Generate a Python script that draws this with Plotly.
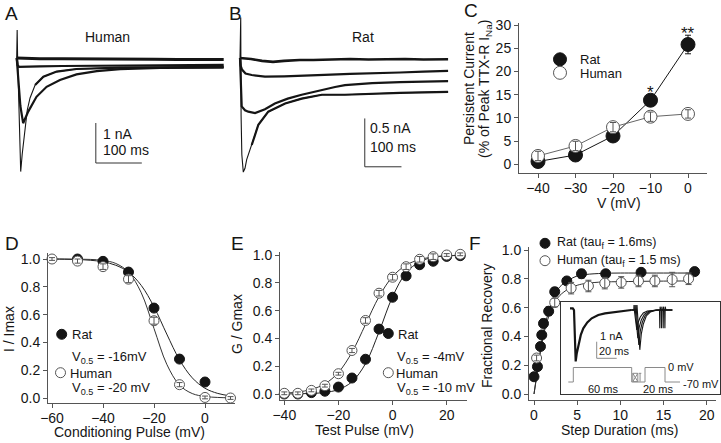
import plotly.graph_objects as go

W, H = 721, 443
FONT = "Liberation Sans, Arial, Helvetica, sans-serif"
INK = "#151515"
AX = "#555555"
HUM = "#555555"
GRAY = "#8a8a8a"

# ---------------- DATA ----------------
# Panel A (human TTX-R currents): time (ms), current (nA)
a0_t = [0, 50, 100, 150, 200, 250, 300, 350, 400, 450]
a0_i = [0, -0.02, -0.02, -0.02, -0.03, -0.03, -0.03, -0.04, -0.04, -0.04]
a1_t = [0, 2, 5, 20, 50, 100, 200, 300, 450]
a1_i = [0, -0.18, -0.22, -0.22, -0.21, -0.2, -0.19, -0.18, -0.17]
a2_t = [0, 3, 8, 14, 25, 43, 65, 94, 130, 174, 225, 312, 450]
a2_i = [0, -0.4, -1.2, -1.63, -1.34, -0.97, -0.72, -0.55, -0.41, -0.33, -0.28, -0.25, -0.24]
a3_t = [0, 1, 2, 5, 8.7, 12, 18, 23, 29, 40, 58, 87, 130, 225, 450]
a3_i = [0, 0.7, 0, -1.5, -2.84, -2.4, -1.75, -1.3, -1.0, -0.675, -0.47, -0.34, -0.275, -0.24, -0.22]
a_bar = dict(t0=172, i0=-2.625, dt=100, di=1)

# Panel B (rat TTX-R currents)
b0_t = [0, 30, 60, 90, 120, 163, 200, 250, 300, 350, 400, 450, 500, 567]
b0_i = [0, -0.01, -0.03, -0.04, -0.03, -0.02, -0.02, -0.015, -0.01, -0.015, -0.01, -0.01, -0.015, -0.013]
b1_t = [0, 2, 5.4, 15, 32, 68, 120, 163, 230, 300, 370, 436, 500, 567]
b1_i = [0, -0.08, -0.12, -0.16, -0.176, -0.193, -0.19, -0.186, -0.175, -0.165, -0.16, -0.15, -0.14, -0.134]
b2_t = [0, 2, 4.6, 13.6, 22.6, 41, 68, 95, 130, 168, 210, 259, 286, 360, 436, 567]
b2_i = [0, -0.3, -0.5, -0.54, -0.555, -0.57, -0.53, -0.47, -0.42, -0.38, -0.34, -0.30, -0.28, -0.26, -0.25, -0.24]
b3_t = [0, 2, 3, 5, 9, 13.6, 18.2, 22.6, 32, 50, 77, 123, 168, 223, 286, 360, 436, 567]
b3_i = [0, 0.42, -0.6, -1.0, -1.18, -1.14, -1.05, -1.0, -0.9, -0.69, -0.555, -0.47, -0.42, -0.38, -0.38, -0.37, -0.36, -0.35]
b_bar = dict(t0=340, i0=-1.125, dt=100, di=0.5)

# Panel C: persistent current
c_v = [-40, -30, -20, -10, 0]
c_rat = [0.6, 2.0, 6.1, 13.8, 25.8]
c_rat_err = [0.5, 0.5, 0.7, 1.0, 2.0]
c_hum = [1.8, 3.95, 8.0, 10.25, 10.85]
c_hum_err = [1.0, 1.0, 1.0, 1.0, 0.9]

# Panel D: steady-state inactivation
d_rat_v = [-50, -40, -30, -20, -10, 0]
d_rat = [1.0, 0.983, 0.906, 0.647, 0.28, 0.115]
d_rat_err = [0.01, 0.01, 0.015, 0.015, 0.02, 0.02]
d_hum_v = [-60, -50, -40, -30, -20, -10, 0, 10]
d_hum = [1.0, 0.985, 0.945, 0.855, 0.556, 0.096, 0.004, 0.0]
d_hum_err = [0.01, 0.015, 0.02, 0.025, 0.025, 0.015, 0.01, 0.01]
d_fit_v = [-60, -55, -50, -45, -40, -35, -30, -25, -20, -15, -10, -5, 0, 5, 10]
d_fit_rat = [1.0, 0.998, 0.996, 0.991, 0.98, 0.955, 0.906, 0.81, 0.656, 0.46, 0.275, 0.145, 0.07, 0.033, 0.015]
d_fit_hum = [1.0, 1.0, 0.999, 0.997, 0.99, 0.968, 0.906, 0.757, 0.5, 0.243, 0.093, 0.032, 0.011, 0.004, 0.001]

# Panel E: activation
e_v = [-40, -35, -30, -25, -20, -15, -10, -5, 0, 5, 10, 15, 20, 25]
e_rat = [0.0, 0.0, 0.01, 0.02, 0.05, 0.115, 0.25, 0.467, 0.696, 0.85, 0.93, 0.955, 0.99, 0.995]
e_hum = [0.005, 0.005, 0.026, 0.06, 0.146, 0.313, 0.529, 0.725, 0.84, 0.916, 0.969, 0.988, 1.0, 1.005]
e_err = [0.01, 0.01, 0.01, 0.01, 0.01, 0.015, 0.02, 0.02, 0.02, 0.02, 0.02, 0.02, 0.01, 0.01]
e_fit_rat = [0.0005, 0.0014, 0.004, 0.011, 0.032, 0.088, 0.218, 0.447, 0.70, 0.872, 0.951, 0.983, 0.994, 0.998]
e_fit_hum = [0.006, 0.014, 0.033, 0.073, 0.155, 0.30, 0.5, 0.70, 0.845, 0.927, 0.967, 0.986, 0.994, 0.997]

# Panel F: recovery from inactivation
f_rat_t = [0, 0.4, 0.75, 0.9, 1.1, 1.7, 2.4, 3.8, 5.5, 8.3, 12.4, 18.6]
f_rat = [0.12, 0.19, 0.33, 0.41, 0.49, 0.575, 0.71, 0.785, 0.835, 0.835, 0.845, 0.85]
f_rat_err = [0.02, 0.02, 0.02, 0.02, 0.03, 0.03, 0.03, 0.02, 0.03, 0.02, 0.01, 0.01]
f_hum_t = [0.3, 2.4, 4.3, 6.3, 8.2, 10.1, 12.1, 14.0, 16.0, 17.9]
f_hum = [0.25, 0.635, 0.735, 0.75, 0.77, 0.775, 0.785, 0.785, 0.795, 0.80]
f_hum_err = [0.02, 0.03, 0.04, 0.04, 0.04, 0.04, 0.04, 0.04, 0.05, 0.04]
f_fit_rat_t = [0, 0.5, 1, 1.5, 2, 2.5, 3, 4, 5, 6, 8, 10, 12, 15, 19]
f_fit_rat = [0.0, 0.2, 0.4, 0.53, 0.63, 0.70, 0.745, 0.79, 0.82, 0.83, 0.838, 0.84, 0.84, 0.84, 0.84]
f_fit_hum_t = [0, 0.5, 1, 1.5, 2, 2.5, 3, 4, 5, 6, 8, 10, 12, 15, 18]
f_fit_hum = [0.0, 0.2, 0.38, 0.5, 0.585, 0.645, 0.685, 0.73, 0.755, 0.768, 0.778, 0.78, 0.782, 0.784, 0.785]

# Inset in F: currents (nA) and protocol (mV) vs time (ms)
in_first_t = [-3.3, -0.5, 0.7, 2.4, 3.5, 5, 7.5, 10, 14, 18.4, 25, 31.7, 45, 58]
in_first_i = [0.1, 0.1, 0, -3.1, -2.6, -2.1, -1.5, -1.1, -0.75, -0.5, -0.3, -0.2, -0.08, 0.0]
in_t0 = [58, 60.5, 60.7, 61, 63.5, 65, 67, 70, 74, 81, 86.2, 86.5, 86.8, 87.5, 99]
in_i0 = [0, 0, 0.3, 0, -1.2, -0.72, -0.42, -0.18, -0.06, 0, 0, -1.1, 0.2, 0, 0]
in_t1 = [58, 61.5, 61.7, 62, 64.5, 66, 68, 71, 75, 82, 87.9, 88.2, 88.5, 89.2, 99]
in_i1 = [0, 0, 0.3, 0, -1.7, -1.02, -0.6, -0.26, -0.09, 0, 0, -1.1, 0.2, 0, 0]
in_t2 = [58, 62.5, 62.7, 63, 65.5, 67, 69, 72, 76, 83, 89.6, 89.9, 90.2, 90.9, 99]
in_i2 = [0, 0, 0.3, 0, -2.1, -1.26, -0.74, -0.32, -0.1, 0, 0, -1.1, 0.2, 0, 0]
in_t3 = [58, 63.5, 63.7, 64, 66.5, 68, 70, 73, 77, 84, 91.3, 91.6, 91.9, 92.6, 99]
in_i3 = [0, 0, 0.3, 0, -2.4, -1.44, -0.85, -0.36, -0.12, 0, 0, -1.1, 0.2, 0, 0]
prot_t = [-5, 0, 0, 58.4, 58.4, 71.7, 71.7, 91.7, 91.7, 106.7]
prot_v = [-70, -70, 0, 0, -70, -70, 0, 0, -70, -70]
box_t = [59.5, 64.5, 64.5, 59.5, 59.5, 64.5, None, 59.5, 64.5]
box_v = [-28, -28, -68, -68, -28, -68, None, -68, -28]
tee_t = [65.5, 68, None, 66.75, 66.75]
tee_v = [-28, -28, None, -28, -68]
in_bar = dict(t0=23.4, i0=-2.91, dt=20, di=1)


# ---------------- helpers ----------------
def dom_x(p0, p1):
    return [p0 / W, p1 / W]


def dom_y(top, bottom):
    return [1 - bottom / H, 1 - top / H]


def cal(p_lo, p_hi, p1, v1, p2, v2):
    s = (v2 - v1) / (p2 - p1)
    return [v1 + (p_lo - p1) * s, v1 + (p_hi - p1) * s]


def PX(x):
    return x / W


def PY(y):
    return 1 - y / H


def vis_axis(**kw):
    d = dict(showline=True, linecolor=AX, linewidth=1, ticks="outside", ticklen=4,
             tickwidth=1, tickcolor=AX, showgrid=False, zeroline=False, automargin=False,
             tickfont=dict(size=14, color=INK, family=FONT))
    d.update(kw)
    return d


def hid_axis(**kw):
    d = dict(visible=False, showgrid=False, zeroline=False, automargin=False)
    d.update(kw)
    return d


def txt(s, x, y, size=14, xa="left", ya="middle", angle=0, color=INK):
    return dict(text=s, x=PX(x), y=PY(y), xref="paper", yref="paper", xanchor=xa,
                yanchor=ya, showarrow=False, textangle=angle,
                font=dict(size=size, color=color, family=FONT))


def circ(x, y, r, fill, line):
    return dict(type="circle", xref="paper", yref="paper", x0=PX(x - r), x1=PX(x + r),
                y0=PY(y + r), y1=PY(y - r), fillcolor=fill, line=dict(color=line, width=1))


fig = go.Figure()


def line(x, y, xa, ya, color=INK, width=1, shape="linear"):
    fig.add_trace(go.Scatter(x=x, y=y, mode="lines", xaxis=xa, yaxis=ya, showlegend=False,
                             hoverinfo="skip", line=dict(color=color, width=width, shape=shape)))


def pts(x, y, xa, ya, size, fill, edge, err=None, errcol=INK, lines=False, lcol=INK):
    fig.add_trace(go.Scatter(
        x=x, y=y, mode="lines+markers" if lines else "markers", xaxis=xa, yaxis=ya,
        showlegend=False, cliponaxis=False, line=dict(color=lcol, width=1),
        marker=dict(size=size, color=fill, line=dict(color=edge, width=1)),
        error_y=dict(array=err, color=errcol, thickness=1, width=3) if err is not None else None))


def errs(x, y, err, xa, ya, color):
    fig.add_trace(go.Scatter(
        x=x, y=y, mode="markers", xaxis=xa, yaxis=ya, showlegend=False, cliponaxis=False,
        marker=dict(size=1, color="rgba(0,0,0,0)"),
        error_y=dict(array=err, color=color, thickness=1, width=3)))


def scalebar(b, xa, ya, color=INK):
    line([b["t0"], b["t0"], b["t0"] + b["dt"]], [b["i0"] + b["di"], b["i0"], b["i0"]], xa, ya, color, 1)


# ---- Panel A ----
line(a0_t, a0_i, "x", "y", INK, 3)
line(a1_t, a1_i, "x", "y", INK, 2.2)
line(a2_t, a2_i, "x", "y", INK, 2.2)
line(a3_t, a3_i, "x", "y", INK, 1.1)
line(a3_t[9:], a3_i[9:], "x", "y", INK, 2.2)
scalebar(a_bar, "x", "y", "#333")

# ---- Panel B ----
line(b0_t, b0_i, "x2", "y2", INK, 2.6)
line(b1_t, b1_i, "x2", "y2", INK, 2.2)
line(b2_t, b2_i, "x2", "y2", INK, 2.2)
line(b3_t, b3_i, "x2", "y2", INK, 1.1)
line(b3_t[8:], b3_i[8:], "x2", "y2", INK, 2.2)
scalebar(b_bar, "x2", "y2", "#333")

# ---- Panel C ----
pts(c_v, c_rat, "x3", "y3", 14, INK, INK, c_rat_err, INK, lines=True, lcol=INK)
pts(c_v, c_hum, "x3", "y3", 13, "white", HUM, None, lines=True, lcol="#666")
errs(c_v, c_hum, c_hum_err, "x3", "y3", HUM)

# ---- Panel D ----
line(d_fit_v, d_fit_rat, "x4", "y4", "#222", 1, "spline")
line(d_fit_v, d_fit_hum, "x4", "y4", "#333", 1, "spline")
pts(d_rat_v, d_rat, "x4", "y4", 10, INK, INK, d_rat_err)
pts(d_hum_v, d_hum, "x4", "y4", 10, "white", HUM)
errs(d_hum_v, d_hum, d_hum_err, "x4", "y4", HUM)

# ---- Panel E ----
line(e_v, e_fit_rat, "x5", "y5", "#222", 1, "spline")
line(e_v, e_fit_hum, "x5", "y5", "#333", 1, "spline")
pts(e_v, e_rat, "x5", "y5", 10, INK, INK, e_err)
pts(e_v, e_hum, "x5", "y5", 10, "white", HUM)
errs(e_v, e_hum, e_err, "x5", "y5", HUM)

# ---- Panel F ----
line(f_fit_rat_t, f_fit_rat, "x6", "y6", "#222", 1, "spline")
line(f_fit_hum_t, f_fit_hum, "x6", "y6", "#333", 1, "spline")
pts(f_rat_t, f_rat, "x6", "y6", 10, INK, INK, f_rat_err)
pts(f_hum_t, f_hum, "x6", "y6", 10, "white", HUM)
errs(f_hum_t, f_hum, f_hum_err, "x6", "y6", HUM)

# ---- Inset ----
line(prot_t, prot_v, "x7", "y8", GRAY, 1)
line(box_t, box_v, "x7", "y8", GRAY, 1)
line(tee_t, tee_v, "x7", "y8", GRAY, 1)
line(in_first_t, in_first_i, "x7", "y7", INK, 2.2)
for tt, ii in [(in_t0, in_i0), (in_t1, in_i1), (in_t2, in_i2), (in_t3, in_i3)]:
    line(tt, ii, "x7", "y7", INK, 1.1)
scalebar(in_bar, "x7", "y7", GRAY)

fig.update_layout(
    template="none",
    width=W, height=H, margin=dict(l=0, r=0, t=0, b=0, pad=0), autosize=False,
    paper_bgcolor="white", plot_bgcolor="rgba(0,0,0,0)",
    font=dict(family=FONT, color=INK, size=14), showlegend=False,
    xaxis=hid_axis(domain=dom_x(10, 230), range=cal(10, 230, 16.7, 0, 62.7, 100), anchor="y"),
    yaxis=hid_axis(domain=dom_y(20, 178), range=cal(178, 20, 58, 0, 98, -1), anchor="x"),
    xaxis2=hid_axis(domain=dom_x(234, 455), range=cal(234, 455, 240, 0, 276.7, 100), anchor="y2"),
    yaxis2=hid_axis(domain=dom_y(12, 178), range=cal(178, 12, 58, 0, 154.7, -1), anchor="x2"),
    xaxis3=vis_axis(domain=dom_x(519, 707), range=cal(519, 707, 538, -40, 688, 0), anchor="y3",
                    tickvals=[-40, -30, -20, -10, 0], ticklabelstandoff=-2),
    yaxis3=vis_axis(domain=dom_y(23, 173), range=cal(173, 23, 164.3, 0, 25, 30), anchor="x3",
                    tickvals=[0, 5, 10, 15, 20, 25, 30]),
    xaxis4=vis_axis(domain=dom_x(48, 235), range=cal(48, 235, 52, -60, 205, 0), anchor="y4",
                    tickvals=[-60, -40, -20, 0], ticklabelstandoff=-2),
    yaxis4=vis_axis(domain=dom_y(253, 403), range=cal(403, 253, 398, 0, 259, 1), anchor="x4",
                    tickvals=[0, 0.2, 0.4, 0.6, 0.8, 1.0], tickformat=".1f"),
    xaxis5=vis_axis(domain=dom_x(280, 467), range=cal(280, 467, 284.3, -40, 446.7, 20), anchor="y5",
                    tickvals=[-40, -20, 0, 20], ticklabelstandoff=-2),
    yaxis5=vis_axis(domain=dom_y(252, 400), range=cal(400, 252, 394, 0, 255, 1), anchor="x5",
                    tickvals=[0, 0.2, 0.4, 0.6, 0.8, 1.0], tickformat=".1f"),
    xaxis6=vis_axis(domain=dom_x(529, 716), range=cal(529, 716, 534, 0, 706.7, 20), anchor="y6",
                    tickvals=[0, 5, 10, 15, 20], ticklabelstandoff=-2),
    yaxis6=vis_axis(domain=dom_y(247, 400), range=cal(400, 247, 394, 0, 250, 1), anchor="x6",
                    tickvals=[0, 0.2, 0.4, 0.6, 0.8, 1.0], tickformat=".1f"),
    xaxis7=dict(domain=dom_x(560.5, 720), range=cal(560.5, 720, 573.3, 0, 673.3, 100), anchor="y7",
                showline=True, mirror=True, linecolor="#333", linewidth=1.2, showticklabels=False,
                ticks="", showgrid=False, zeroline=False, automargin=False),
    yaxis7=dict(domain=dom_y(301.5, 394), range=cal(394, 301.5, 310, 0, 326.6, -1), anchor="x7",
                showline=True, mirror=True, linecolor="#333", linewidth=1.2, showticklabels=False,
                ticks="", showgrid=False, zeroline=False, automargin=False),
    yaxis8=dict(overlaying="y7", anchor="x7", range=cal(394, 301.5, 367.5, 0, 382, -70),
                visible=False, showgrid=False, zeroline=False, automargin=False),
)

ann = [
    # panel letters
    txt("A", 3, 14, 19), txt("B", 227, 14, 19), txt("C", 462, 11, 19),
    txt("D", 3, 243, 19), txt("E", 229, 243, 19), txt("F", 467, 243, 19),
    # A / B labels
    txt("Human", 108, 37, 14, "center"), txt("Rat", 363, 37, 14, "center"),
    txt("1 nA", 101, 134, 14), txt("100 ms", 101, 150, 14),
    txt("0.5 nA", 368, 128, 14), txt("100 ms", 368, 147, 14),
    # C
    txt("Persistent Current", 469, 89, 14, "center", "middle", -90),
    txt("(% of Peak TTX-R I<sub>Na</sub>)", 485, 89, 14, "center", "middle", -90),
    txt("V (mV)", 619, 203, 14, "center"),
    txt("Rat", 578, 59, 13), txt("Human", 578, 73, 13),
    dict(text="*", x=-10, y=15.4, xref="x3", yref="y3", showarrow=False, xanchor="center",
         yanchor="middle", font=dict(size=17, color=INK, family=FONT)),
    dict(text="**", x=0, y=28.2, xref="x3", yref="y3", showarrow=False, xanchor="center",
         yanchor="middle", font=dict(size=17, color=INK, family=FONT)),
    # D
    txt("I / Imax", 9, 329, 14, "center", "middle", -90),
    txt("Conditioning Pulse (mV)", 129, 432, 14, "center"),
    txt("Rat", 70, 334, 13), txt("V<sub>0.5</sub> = -16mV", 70, 357, 13),
    txt("Human", 68, 373, 13), txt("V<sub>0.5</sub> = -20 mV", 70, 388, 13),
    # E
    txt("G / Gmax", 237, 324, 14, "center", "middle", -90),
    txt("Test Pulse (mV)", 364, 430, 14, "center"),
    txt("Rat", 396, 334, 13), txt("V<sub>0.5</sub> = -4mV", 395, 357, 13),
    txt("Human", 394, 373, 13), txt("V<sub>0.5</sub> = -10 mV", 395, 388, 13),
    # F
    txt("Fractional Recovery", 487, 326, 14, "center", "middle", -90),
    txt("Step Duration (ms)", 619, 430, 14, "center"),
    txt("Rat (tau<sub>f</sub> = 1.6ms)", 555, 243, 12.5),
    txt("Human (tau<sub>f</sub> = 1.5 ms)", 555, 261, 12.5),
    # inset
    txt("1 nA", 598, 336, 11), txt("20 ms", 597, 351, 11),
    txt("0 mV", 666, 367, 11), txt("-70 mV", 681, 384, 11),
    txt("60 ms", 586, 389, 11), txt("20 ms", 641, 389, 11),
]
fig.update_layout(annotations=ann)

fig.update_layout(shapes=[
    circ(560, 59.3, 6.5, INK, INK), circ(560, 72.8, 6.5, "white", HUM),
    circ(61.7, 334.3, 5, INK, INK), circ(60.5, 372.7, 5, "white", HUM),
    circ(388.3, 333.5, 5, INK, INK), circ(388.3, 372.7, 5, "white", HUM),
    circ(545, 243.3, 5, INK, INK), circ(545, 260.7, 5, "white", HUM),
])

fig.write_html("out.html", config={"displayModeBar": False},
               post_script="document.body.style.margin='0';")
